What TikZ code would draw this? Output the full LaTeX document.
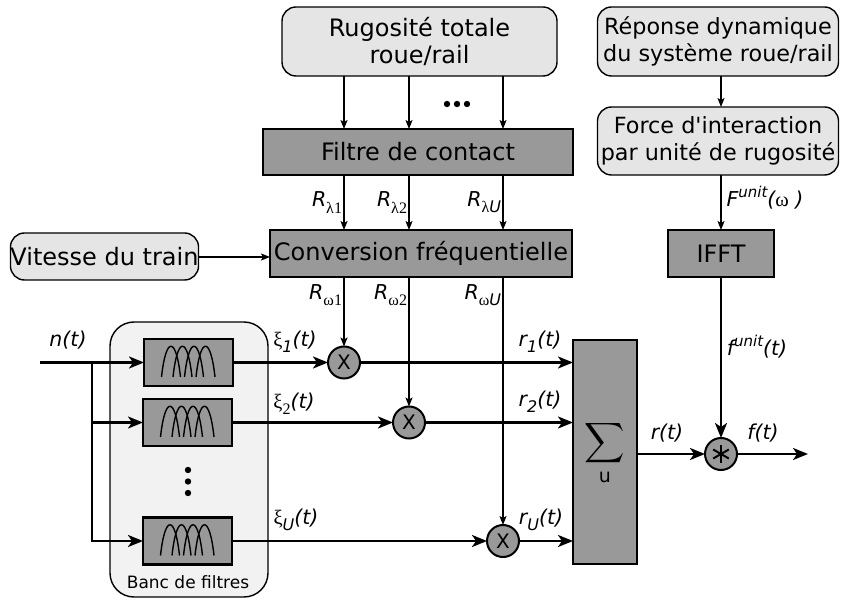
\documentclass[tikz,border=0pt]{standalone}
\usepackage{fontspec}
\usepackage{graphicx}
\setmainfont{DejaVu Sans}
\newfontfamily\grkfont{Liberation Serif}
\usetikzlibrary{arrows.meta, positioning, calc}

\newcommand{\lsub}[1]{\raisebox{-0.3em}{\fontsize{16}{16}\selectfont #1}}
\newcommand{\lsup}[1]{\raisebox{0.45em}{\fontsize{15}{15}\selectfont #1}}
\newcommand{\grk}[1]{{\upshape\grkfont #1}}

\begin{document}
\begin{tikzpicture}[
      x=1pt, y=-1pt,
      every node/.style={inner sep=0pt, outer sep=0pt},
      softbox/.style={draw, line width=1.4pt, rounded corners=14pt, fill=black!10, align=center, font=\fontsize{24}{27}\selectfont},
      darkbox/.style={draw, line width=2.6pt, fill=black!40, align=center, font=\fontsize{24}{27}\selectfont},
      filtbox/.style={draw, line width=2.6pt, fill=black!40, minimum width=89pt, minimum height=47pt},
      mult/.style={draw, circle, line width=2pt, fill=black!40, minimum size=32pt, font=\fontsize{20}{20}\selectfont},
      lbl/.style={font=\fontsize{20.5}{24}\selectfont\itshape},
      sig/.style={line width=2.3pt, -{Stealth[length=15pt, width=12pt, inset=4pt]}},
      thinarrow/.style={line width=1.2pt, -{Stealth[length=9pt, width=7pt, inset=2pt]}}
    ]
      \useasboundingbox (0,0) rectangle (841,601);

      % Banc de filtres (fond)
      \node (banc) [draw, line width=1.4pt, rounded corners=24pt, fill=black!5, minimum width=158pt, minimum height=275pt] at (189,459.5) {};
      \node (banclbl) [font=\fontsize{17}{20}\selectfont] at (188,582) {Banc de filtres};

      % Boites du haut
      \node (rug) [softbox, minimum width=275pt, minimum height=69pt] at (419.5,41.5) {Rugosité totale\\roue/rail};
      \node (rep) [softbox, minimum width=241pt, minimum height=69pt, font=\fontsize{22.3}{27}\selectfont] at (718,41.5) {Réponse dynamique\\du système roue/rail};
      \node (force) [softbox, minimum width=241pt, minimum height=68pt, font=\fontsize{22.3}{27}\selectfont, below=31pt of rep] {Force d\textquotesingle interaction\\par unité de rugosité};

      \node (filtre) [darkbox, minimum width=310pt, minimum height=46pt] at (418,152) {Filtre de contact};
      \node (conv) [darkbox, minimum width=302pt, minimum height=47pt] at (421,253.5) {Conversion fréquentielle};
      \node (vit) [softbox, minimum width=185pt, minimum height=47pt] at (104.5,256.5) {Vitesse du train};
      \node (ifft) [darkbox, minimum width=106pt, minimum height=47pt] at (721,253.5) {IFFT};

      % Filtres
      \node (filt1) [filtbox] at (188.5,362.5) {};
      \node (filt2) [filtbox] at (187.5,422.5) {};
      \node (filtU) [filtbox] at (187.5,541) {};
      \foreach \f in {filt1,filt2,filtU}
        \foreach \dx in {-17.5,-6,5.5,17}
          \draw[line width=1.4pt] ([shift={(\dx-9.5,14.5)}]\f.center) .. controls ([shift={(\dx-5,-26.5)}]\f.center) and ([shift={(\dx+5,-26.5)}]\f.center) .. ([shift={(\dx+9.5,14.5)}]\f.center);
      \foreach \yy in {470,481.5,493}
        \fill (188,\yy) circle (3.2);

      % Multiplieurs, somme, convolution
      \node (m1) [mult] at (344,362.5) {X};
      \node (m2) [mult] at (409,422.5) {X};
      \node (mU) [mult] at (503,541) {X};
      \node (sum) [darkbox, minimum width=64pt, minimum height=224pt] at (605,452) {\scalebox{2.8}{$\displaystyle\sum$}\\[-5pt]\fontsize{19}{19}\selectfont u};
      \node (cv) [mult] at (721,454) {};
      \foreach \a in {90,30,150}
        \draw[line width=2pt] ([shift={(\a:9)}]cv.center) -- ([shift={(\a+180:9)}]cv.center);

      % Labels
      \node (nt) [lbl] at (68,340) {n(t)};
      \node (xi1) [lbl] at (295,342) {\grk{ξ}\lsub{1}(t)};
      \node (xi2) [lbl] at (294,404) {\grk{ξ}\lsub{\grk{2}}(t)};
      \node (xiU) [lbl] at (296,520) {\grk{ξ}\lsub{U}(t)};
      \node (r1) [lbl] at (540,342) {r\lsub{1}(t)};
      \node (r2) [lbl] at (540,402) {r\lsub{2}(t)};
      \node (rU) [lbl] at (541,520) {r\lsub{U}(t)};
      \node (rt) [lbl] at (667,433) {r(t)};
      \node (ft) [lbl] at (763,433) {f(t)};
      \node (funit) [lbl] at (757,347) {f\lsup{unit}(t)};
      \node (Funit) [lbl] at (765,198) {F\lsup{unit}(\grk{ω} )};
      \node (rw1) [lbl, anchor=east] at ($(conv.south -| m1)+(-2,18)$) {R\lsub{\grk{ω1}}};
      \node (rw2) [lbl, anchor=east] at ($(conv.south -| m2)+(-2,18)$) {R\lsub{\grk{ω2}}};
      \node (rwU) [lbl, anchor=east] at ($(conv.south -| mU)+(-2,18)$) {R\lsub{\grk{ω}U}};

      % Connectors
      \foreach \m in {m1,m2,mU}
        \draw[thinarrow] (rug.south -| \m) -- (filtre.north -| \m);
      \foreach \dx in {-10,0,10}
        \fill (457+\dx,104) circle (3.2);

      \draw[thinarrow] (filtre.south -| m1) -- node[lbl, left=2pt] (rl1) {R\lsub{\grk{λ1}}} (conv.north -| m1);
      \draw[thinarrow] (filtre.south -| m2) -- node[lbl, left=2pt] (rl2) {R\lsub{\grk{λ2}}} (conv.north -| m2);
      \draw[thinarrow] (filtre.south -| mU) -- node[lbl, left=2pt] (rlU) {R\lsub{\grk{λ}U}} (conv.north -| mU);

      \draw[thinarrow] (conv.south -| m1) -- (m1.north);
      \draw[thinarrow] (conv.south -| m2) -- (m2.north);
      \draw[thinarrow] (conv.south -| mU) -- (mU.north);

      \draw[thinarrow, line width=1.6pt] (vit.east |- 0,257) -- (conv.west |- 0,257);

      \coordinate (in) at (40,362.5);
      \coordinate (br) at (92,362.5);
      \draw[sig] (in) -- (filt1.west);
      \draw[sig] (br) |- (filt2.west);
      \draw[sig] (br) |- (filtU.west);

      \draw[sig] (filt1.east) -- (m1.west);
      \draw[sig] (filt2.east) -- (m2.west);
      \draw[sig] (filtU.east) -- (mU.west);

      \draw[sig] (m1.east) -- (m1.east -| sum.west);
      \draw[sig] (m2.east) -- (m2.east -| sum.west);
      \draw[sig] (mU.east) -- (mU.east -| sum.west);

      \coordinate (out) at (808,454);
      \draw[sig] (sum.east |- cv) -- (cv.west);
      \draw[sig] (cv.east) -- (out);

      \draw[thinarrow] (rep.south -| ifft) -- (force.north -| ifft);
      \draw[thinarrow] (force.south -| ifft) -- (ifft.north);
      \draw[sig] (ifft.south) -- (cv.north);
    \end{tikzpicture}
\end{document}
